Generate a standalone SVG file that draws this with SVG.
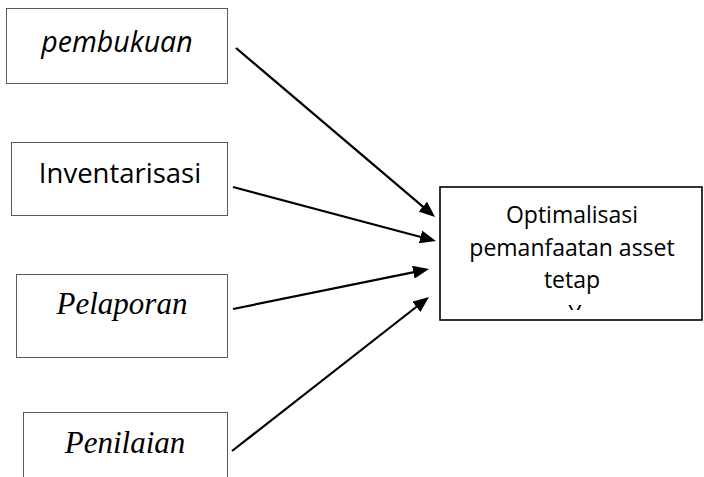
<svg xmlns="http://www.w3.org/2000/svg" width="704" height="477" viewBox="0 0 704 477">
  <style>
    .src { fill: #ffffff; stroke: #5a5a5a; stroke-width: 1; }
    .dst { fill: #ffffff; stroke: #000000; stroke-width: 1.6; }
    .sans { font-family: "Open Sans", "Liberation Sans", sans-serif; fill: #000000; }
    .serif { font-family: "Liberation Serif", "Times New Roman", serif; font-style: italic; fill: #000000; }
    .conn { stroke: #000000; stroke-width: 2.2; fill: none; marker-end: url(#arrow); }
  </style>
  <defs>
    <marker id="arrow" markerUnits="userSpaceOnUse" markerWidth="16" markerHeight="13" refX="12" refY="6.5" orient="auto">
      <path d="M0,0 L16,6.5 L0,13 z" fill="#000000"/>
    </marker>
    <clipPath id="dstClip">
      <rect x="441" y="188" width="260" height="122"/>
    </clipPath>
  </defs>
  <rect width="704" height="477" fill="#ffffff"/>

  <g id="connectors">
    <line class="conn" x1="236" y1="48" x2="432" y2="214.4"/>
    <line class="conn" x1="233" y1="187" x2="432.1" y2="240"/>
    <line class="conn" x1="233" y1="309" x2="425.1" y2="269.8"/>
    <line class="conn" x1="232" y1="451" x2="425.8" y2="299.5"/>
  </g>

  <g id="pembukuan">
    <rect class="src" x="6.5" y="8.5" width="221" height="75"/>
    <text class="sans" x="117" y="52" font-size="28.5" font-style="italic" text-anchor="middle">pembukuan</text>
  </g>

  <g id="inventarisasi">
    <rect class="src" x="11.5" y="142.5" width="216" height="73"/>
    <text class="sans" x="120" y="183" font-size="27.5" text-anchor="middle">Inventarisasi</text>
  </g>

  <g id="pelaporan">
    <rect class="src" x="16.5" y="274.5" width="211" height="83"/>
    <text class="serif" x="122" y="314" font-size="31" text-anchor="middle">Pelaporan</text>
  </g>

  <g id="penilaian">
    <rect class="src" x="23.5" y="412.5" width="204" height="80"/>
    <text class="serif" x="125" y="453" font-size="31" text-anchor="middle">Penilaian</text>
  </g>

  <g id="optimalisasi">
    <rect class="dst" x="440" y="187" width="262" height="133"/>
    <g clip-path="url(#dstClip)">
      <text class="sans" font-size="23" text-anchor="middle">
        <tspan x="575" y="223">Optimalisasi</tspan>
        <tspan x="575" y="256">pemanfaatan asset</tspan>
        <tspan x="575" y="288">tetap</tspan>
        <tspan x="575" y="322">Y</tspan>
      </text>
    </g>
  </g>
</svg>
